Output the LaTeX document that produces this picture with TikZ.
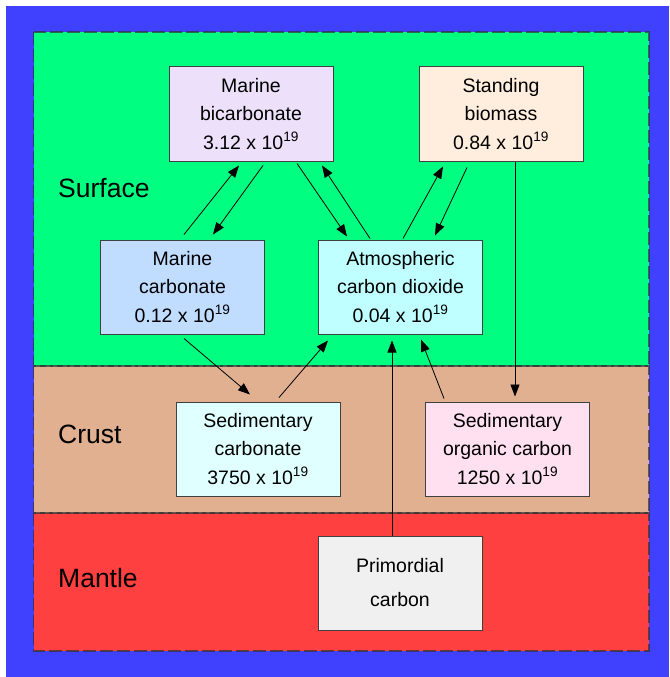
\documentclass[tikz,border=0pt]{standalone}
\usepackage{fontspec}
\setmainfont{Liberation Sans}
\usetikzlibrary{arrows.meta}
\definecolor{bgblue}{RGB}{64,64,255}
\definecolor{surfgreen}{RGB}{0,255,128}
\definecolor{crustc}{RGB}{224,176,144}
\definecolor{mantlec}{RGB}{255,64,64}
\definecolor{cMB}{RGB}{236,224,250}
\definecolor{cSB}{RGB}{255,238,222}
\definecolor{cMC}{RGB}{192,220,255}
\definecolor{cAT}{RGB}{192,255,255}
\definecolor{cSC}{RGB}{224,255,255}
\definecolor{cSO}{RGB}{255,224,240}
\definecolor{cPC}{RGB}{240,240,240}
\tikzset{
  layerbox/.style={draw=black!80, draw opacity=0.7, line width=1.1pt, dash pattern=on 13pt off 4pt},
  stockbox/.style={draw=black!75, line width=1pt, minimum width=164pt, minimum height=94pt,
    inner sep=0pt, align=center, font=\fontsize{19.5}{28.5}\selectfont},
  layerlabel/.style={anchor=west, inner sep=0pt, font=\fontsize{26.5}{30}\selectfont},
  flow/.style={line width=0.8pt, -{Triangle[length=12pt,width=9pt]}}
}
\newcommand{\tenp}{10\textsuperscript{19}}
\begin{document}
\begin{tikzpicture}[x=1pt,y=-1pt]
\useasboundingbox (0,0) rectangle (669,677);
\fill[white] (0,0) rectangle (669,677);
\fill[bgblue] (6,6) rectangle (669,677);
% layers
\fill[surfgreen] (33.5,32) rectangle (649,366);
\fill[crustc] (33.5,366) rectangle (649,513);
\fill[mantlec] (33.5,513) rectangle (649,651);
\draw[layerbox] (33.5,32) rectangle (649,366);
\draw[layerbox] (33.5,366) rectangle (649,513);
\draw[layerbox] (33.5,513) rectangle (649,651);
% layer labels
\node[layerlabel] (lsurf) at (58,188) {Surface};
\node[layerlabel] (lcrust) at (58,434) {Crust};
\node[layerlabel] (lmantle) at (58,578) {Mantle};
% stocks
\node[stockbox, fill=cMB] (mb) at (251,114) {Marine\\bicarbonate\\3.12 x \tenp};
\node[stockbox, fill=cSB] (sb) at (501,114) {Standing\\biomass\\0.84 x \tenp};
\node[stockbox, fill=cMC] (mc) at (182.5,287) {Marine\\carbonate\\0.12 x \tenp};
\node[stockbox, fill=cAT] (at) at (400.5,287) {Atmospheric\\carbon dioxide\\0.04 x \tenp};
\node[stockbox, fill=cSC] (sc) at (258,449) {Sedimentary\\carbonate\\3750 x \tenp};
\node[stockbox, fill=cSO] (so) at (507.5,449) {Sedimentary\\organic carbon\\1250 x \tenp};
\node[stockbox, fill=cPC, font=\fontsize{19.5}{34}\selectfont] (pc) at (400,583) {Primordial\\carbon};
% flows
\draw[flow] ([xshift=1.5pt,yshift=5pt]mc.north) -- ([xshift=-12pt,yshift=-4pt]mb.south);
\draw[flow] ([xshift=12pt,yshift=-4pt]mb.south) -- ([xshift=30.5pt,yshift=5pt]mc.north);
\draw[flow] ([xshift=46pt,yshift=-2pt]mb.south) -- ([xshift=-53.5pt,yshift=3pt]at.north);
\draw[flow] ([xshift=-30.5pt,yshift=1pt]at.north) -- ([xshift=71pt,yshift=-4pt]mb.south);
\draw[flow] ([xshift=2.5pt,yshift=1pt]at.north) -- ([xshift=-58pt,yshift=-5pt]sb.south);
\draw[flow] ([xshift=-34pt,yshift=-6pt]sb.south) -- ([xshift=34.5pt,yshift=4pt]at.north);
\draw[flow] ([xshift=14pt]sb.south) -- ([xshift=7.5pt,yshift=5pt]so.north);
\draw[flow] ([xshift=1.5pt,yshift=-4pt]mc.south) -- ([xshift=-8pt,yshift=7pt]sc.north);
\draw[flow] ([xshift=21pt,yshift=4pt]sc.north) -- ([xshift=-72.5pt,yshift=-6pt]at.south);
\draw[flow] ([xshift=-8pt]pc.north) -- ([xshift=-8.5pt,yshift=-6pt]at.south);
\draw[flow] ([xshift=-63.5pt,yshift=3pt]so.north) -- ([xshift=20.5pt,yshift=-5pt]at.south);
\end{tikzpicture}
\end{document}
